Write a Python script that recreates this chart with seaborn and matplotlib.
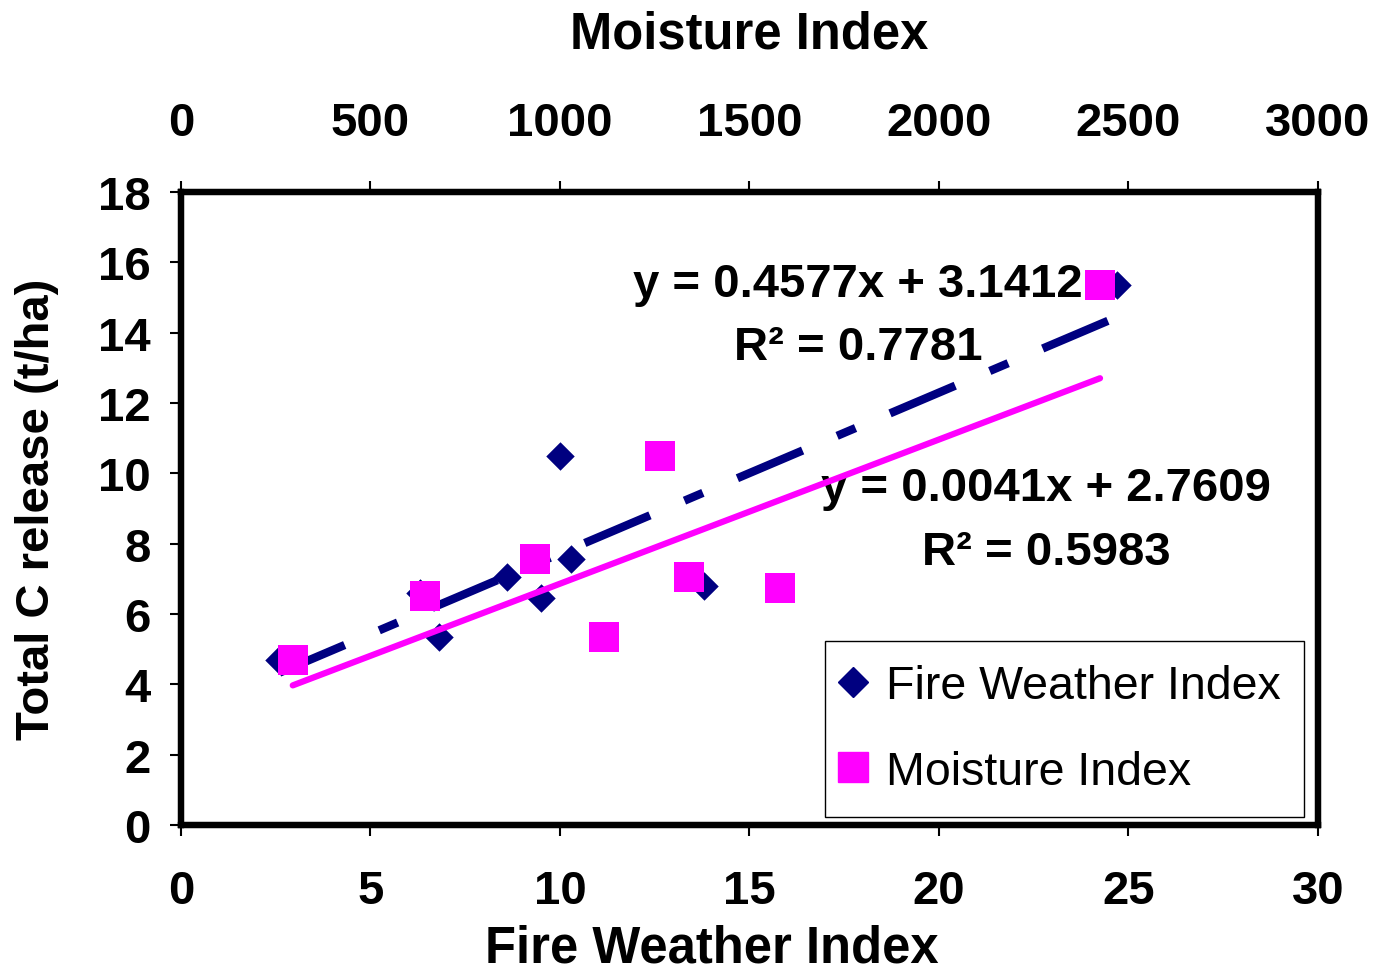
import matplotlib
matplotlib.use("Agg")
import matplotlib.pyplot as plt
import seaborn as sns
import pandas as pd
import numpy as np
from matplotlib.lines import Line2D

fwi_x = [2.6, 6.3, 6.8, 8.6, 9.5, 10.0, 10.3, 13.8, 24.7]
fwi_y = [4.7, 6.6, 5.35, 7.05, 6.45, 10.5, 7.55, 6.8, 15.35]
mi_x = [295, 645, 935, 1115, 1265, 1340, 1580, 2425]
mi_y = [4.7, 6.5, 7.55, 5.35, 10.5, 7.05, 6.75, 15.35]
fwi_fit = [0.4577, 3.1412]
mi_fit = [0.0041, 2.7609]
fwi_eq = ["y = 0.4577x + 3.1412", "R\u00b2 = 0.7781"]
mi_eq = ["y = 0.0041x + 2.7609", "R\u00b2 = 0.5983"]
x_ticks = [0, 5, 10, 15, 20, 25, 30]
top_ticks = [0, 500, 1000, 1500, 2000, 2500, 3000]
y_ticks = [0, 2, 4, 6, 8, 10, 12, 14, 16, 18]

sns.set_style("white")
plt.rcParams['font.family'] = ['Liberation Sans', 'DejaVu Sans']
plt.rcParams.update({"text.color": "black", "axes.labelcolor": "black",
                     "xtick.color": "black", "ytick.color": "black"})

NAVY = "#000080"
MAG = "#FF00FF"
FS = 34
TFS = 36.5

fig = plt.figure(figsize=(13.74, 9.78), dpi=100)
ax = fig.add_axes([0.1317, 0.1554, 0.8275, 0.6473])
ax2 = ax.twiny()

df1 = pd.DataFrame({"x": fwi_x, "y": fwi_y})
df2 = pd.DataFrame({"x": mi_x, "y": mi_y})

sns.scatterplot(data=df1, x="x", y="y", ax=ax, marker="D", s=210, color=NAVY,
                edgecolor=NAVY, linewidth=0, zorder=3, legend=False)
sns.scatterplot(data=df2, x="x", y="y", ax=ax2, marker="s", s=470, color=MAG,
                edgecolor=MAG, linewidth=0, zorder=4, legend=False)

xf = np.array([min(fwi_x), max(fwi_x)])
ax.plot(xf, fwi_fit[0] * xf + fwi_fit[1], color=NAVY, lw=6, dashes=(8.5, 4.5, 2.4, 4.5),
        zorder=2, dash_capstyle='butt')
xm = np.array([min(mi_x), max(mi_x)])
ax2.plot(xm, mi_fit[0] * xm + mi_fit[1], color=MAG, lw=4.5, zorder=2)

ax.set_xlim(0, 30)
ax.set_ylim(0, 18)
ax2.set_xlim(0, 3000)
ax.set_xticks(x_ticks)
ax.set_yticks(y_ticks)
ax2.set_xticks(top_ticks)
ax.set_xticklabels([str(t) for t in x_ticks], fontsize=FS, fontweight='bold')
ax.set_yticklabels([str(t) for t in y_ticks], fontsize=FS, fontweight='bold')
ax2.set_xticklabels([str(t) for t in top_ticks], fontsize=FS, fontweight='bold')

for a in (ax, ax2):
    for s in a.spines.values():
        s.set_linewidth(4.5)
        s.set_color("black")
ax.tick_params(axis='both', direction='out', length=8, width=1.5, color='black', pad=24,
               left=True, bottom=True)
ax.tick_params(axis='y', pad=14)
ax2.tick_params(axis='x', direction='out', length=8, width=1.5, color='black', pad=26, top=True)

ax.set_xlabel("Fire Weather Index", fontsize=TFS, fontweight='bold', labelpad=14)
ax.xaxis.set_label_coords(0.467, -0.155)
ax.set_ylabel("Total C release (t/ha)", fontsize=FS, fontweight='bold', labelpad=28)
ax2.set_xlabel("Moisture Index", fontsize=TFS, fontweight='bold', labelpad=38)

ax.text(17.86, 15.38, fwi_eq[0], fontsize=FS, fontweight='bold', ha='center', va='center', zorder=5)
ax.text(17.86, 13.59, fwi_eq[1], fontsize=FS, fontweight='bold', ha='center', va='center', zorder=5)
ax.text(22.82, 9.58, mi_eq[0], fontsize=FS, fontweight='bold', ha='center', va='center', zorder=5)
ax.text(22.82, 7.76, mi_eq[1], fontsize=FS, fontweight='bold', ha='center', va='center', zorder=5)

handles = [Line2D([], [], marker='D', color=NAVY, ls='none', markersize=15),
           Line2D([], [], marker='s', color=MAG, ls='none', markersize=21)]
leg = ax.legend(handles, ["Fire Weather Index", "Moisture Index"], loc='lower right',
                bbox_to_anchor=(0.9877, 0.0126), fontsize=33.5, frameon=True, fancybox=False,
                edgecolor='black', framealpha=1, handlelength=0.2, handletextpad=0.6,
                labelspacing=0.9, borderpad=0.5, borderaxespad=0)
leg.get_frame().set_linewidth(1)
leg.set_zorder(10)

fig.savefig("out.png", dpi=100)
